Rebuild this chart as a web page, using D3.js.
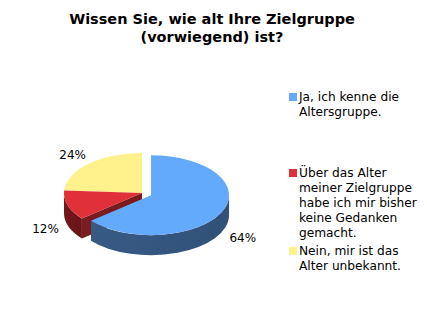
<!DOCTYPE html>
<html>
<head>
<meta charset="utf-8">
<script src="https://cdn.jsdelivr.net/npm/d3@7"></script>
<style>
  body { margin: 0; background: #fff; }
  text { font-family: "DejaVu Sans", Verdana, sans-serif; }
</style>
</head>
<body>
<div id="chart"></div>
<script>
const width = 427
const height = 312

// data
const titleLines = ["Wissen Sie, wie alt Ihre Zielgruppe", "(vorwiegend) ist?"]
const categories = [
    ["Ja, ich kenne die", "Altersgruppe."],
    ["Über das Alter", "meiner Zielgruppe", "habe ich mir bisher", "keine Gedanken", "gemacht."],
    ["Nein, mir ist das", "Alter unbekannt."]
]
const values = [64, 12, 24]
const topColors = ["#63a9fc", "#e0303a", "#fff18c"]
const sideColors = ["#34557e", "#6e161a", "#b3a860"]
const wallColors = ["#2c4a70", "#7a1b1f", "#a59a55"]

// pie geometry
const cx = 142, cy = 193
const rx = 78, ry = 40
const depth = 20
const explode = [10, 0, 0]
const k = ry / rx

let svg = d3.select("#chart").append("svg")
    .attr("width", width)
    .attr("height", height)

// title
svg.append("g").selectAll("text")
    .data(titleLines)
    .enter()
    .append("text")
    .attr("x", 212)
    .attr("y", function (d, i) { return 24 + i * 18 })
    .attr("text-anchor", "middle")
    .style("font-size", "14.5px")
    .style("font-weight", "bold")
    .style("fill", "#000")
    .text(function (d) { return d })

let pie = d3.pie().sort(null).value(function (d) { return d })
let slices = pie(values).map(function (d, i) {
    let mid = (d.startAngle + d.endAngle) / 2
    d.i = i
    d.ox = explode[i] * Math.sin(mid)
    d.oy = -explode[i] * Math.cos(mid) * k
    return d
})

// points on the (scaled) circle; pie angle 0 = 12 o'clock, clockwise
let pt = function (a, r) { return [r * Math.sin(a), -r * Math.cos(a)] }
let toPath = function (a) { return a - Math.PI / 2 }

let defs = svg.append("defs")
slices.forEach(function (d) {
    let g = defs.append("linearGradient")
        .attr("id", "side" + d.i)
        .attr("x1", 0).attr("x2", 1).attr("y1", 0).attr("y2", 0)
    g.append("stop").attr("offset", "0%").attr("stop-color", d3.color(sideColors[d.i]).brighter(0.15))
    g.append("stop").attr("offset", "100%").attr("stop-color", d3.color(sideColors[d.i]).darker(0.15))
})

let sliceGroup = function (d) {
    return svg.append("g")
        .attr("transform", "translate(" + (cx + d.ox) + "," + (cy + d.oy) + ") scale(1," + k + ")")
}

let dz = depth / k
let arc = d3.arc().innerRadius(0).outerRadius(rx)

// draw back slices first, exploded blue last
let order = [2, 1, 0]
order.forEach(function (idx) {
    let d = slices[idx]
    let g = sliceGroup(d)

    // radial wall at start angle (visible when it faces the viewer on the left side)
    let a0 = d.startAngle
    if (Math.sin(a0) < 0 && Math.cos(a0) < 0) {
        let p = pt(a0, rx)
        let w = d3.path()
        w.moveTo(0, 0)
        w.lineTo(p[0], p[1])
        w.lineTo(p[0], p[1] + dz)
        w.lineTo(0, dz)
        w.closePath()
        g.append("path").attr("d", w.toString()).style("fill", wallColors[idx])
    }

    // outer side, only the front half
    let s = Math.max(d.startAngle, Math.PI / 2)
    let e = Math.min(d.endAngle, 3 * Math.PI / 2)
    if (e > s) {
        let p = d3.path()
        let p0 = pt(s, rx), p1 = pt(e, rx)
        p.moveTo(p0[0], p0[1])
        p.arc(0, 0, rx, toPath(s), toPath(e))
        p.lineTo(p1[0], p1[1] + dz)
        p.arc(0, dz, rx, toPath(e), toPath(s), true)
        p.closePath()
        g.append("path").attr("d", p.toString()).style("fill", "url(#side" + idx + ")")
    }

    // top face
    g.append("path").attr("d", arc(d)).style("fill", topColors[idx])
})

// percentage labels
let total = d3.sum(values)
svg.append("g").selectAll("text")
    .data(slices)
    .enter()
    .append("text")
    .attr("x", function (d) {
        let mid = (d.startAngle + d.endAngle) / 2
        return cx + d.ox + rx * 1.3 * Math.sin(mid)
    })
    .attr("y", function (d) {
        let mid = (d.startAngle + d.endAngle) / 2
        return cy + d.oy - ry * 1.3 * Math.cos(mid) + (Math.cos(mid) < 0 ? depth : 0)
    })
    .attr("text-anchor", "middle")
    .attr("dy", "0.35em")
    .style("font-size", "12px")
    .style("fill", "#000")
    .text(function (d) { return Math.round(d.value / total * 100) + "%" })

// legend
const legendY = [101, 177, 255]
let legend = svg.append("g")
    .selectAll("g")
    .data(categories)
    .enter()
    .append("g")
    .attr("transform", function (d, i) { return "translate(289," + legendY[i] + ")" })

legend.append("rect")
    .attr("x", 0)
    .attr("y", -8)
    .attr("width", 8)
    .attr("height", 8)
    .style("fill", function (d, i) { return topColors[i] })

legend.append("text")
    .style("font-size", "12.2px")
    .style("fill", "#000")
    .selectAll("tspan")
    .data(function (d) { return d })
    .enter()
    .append("tspan")
    .attr("x", 10)
    .attr("y", function (d, j) { return j * 15 })
    .text(function (d) { return d })
</script>
</body>
</html>
